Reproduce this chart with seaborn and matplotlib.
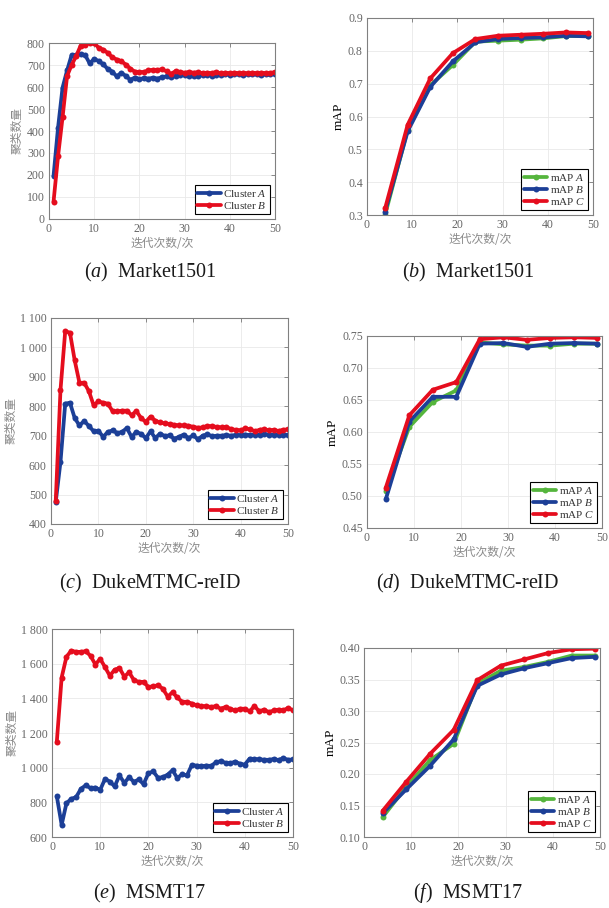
import matplotlib
matplotlib.use("Agg")
import matplotlib.pyplot as plt
import pandas as pd
import seaborn as sns

# ---- data -------------------------------------------------------------
iters = list(range(1, 51))
map_iters = [4, 9, 14, 19, 24, 29, 34, 39, 44, 49]

market_cluster_a = [195, 415, 597, 675, 745, 745, 750, 745, 707, 728,
                    718, 703, 682, 670, 648, 665, 650, 633, 643, 636,
                    640, 638, 642, 638, 645, 648, 645, 650, 655, 655,
                    652, 648, 652, 655, 656, 652, 655, 656, 658, 656,
                    658, 657, 655, 658, 657, 658, 656, 658, 657, 660]
market_cluster_b = [78, 285, 462, 650, 700, 740, 788, 792, 800, 800,
                    778, 770, 755, 735, 725, 717, 702, 683, 670, 668,
                    668, 676, 678, 678, 680, 672, 660, 672, 668, 665,
                    668, 665, 667, 663, 665, 663, 668, 662, 665, 663,
                    665, 663, 665, 662, 665, 663, 665, 663, 664, 668]

duke_cluster_a = [475, 611, 809, 812, 760, 735, 750, 733, 715, 717,
                  696, 713, 718, 709, 713, 726, 696, 713, 706, 692,
                  715, 692, 707, 699, 701, 690, 696, 704, 692, 701,
                  688, 700, 705, 698, 700, 700, 702, 700, 703, 702,
                  704, 702, 704, 703, 705, 703, 704, 703, 704, 703]
duke_cluster_b = [478, 855, 1055, 1050, 956, 880, 880, 851, 803, 817,
                  812, 809, 783, 783, 785, 785, 770, 784, 760, 747,
                  765, 751, 745, 742, 740, 737, 735, 735, 734, 730,
                  727, 728, 733, 732, 730, 728, 730, 722, 720, 718,
                  725, 722, 715, 720, 722, 718, 720, 716, 720, 722]

msmt_cluster_a = [835, 670, 795, 820, 830, 878, 898, 882, 885, 872,
                  935, 920, 892, 955, 912, 945, 918, 932, 905, 968,
                  978, 942, 945, 960, 985, 940, 962, 955, 1015, 1012,
                  1008, 1012, 1010, 1030, 1038, 1028, 1025, 1035, 1022, 1018,
                  1052, 1050, 1048, 1046, 1045, 1050, 1044, 1055, 1045, 1048]
msmt_cluster_b = [1150, 1520, 1640, 1675, 1668, 1668, 1672, 1645, 1595, 1628,
                  1580, 1530, 1565, 1575, 1525, 1550, 1505, 1495, 1495, 1465,
                  1470, 1475, 1455, 1410, 1435, 1405, 1380, 1380, 1370, 1360,
                  1355, 1355, 1350, 1355, 1340, 1350, 1340, 1330, 1340, 1340,
                  1325, 1355, 1325, 1335, 1320, 1330, 1335, 1330, 1345, 1330]

market_map_a = [0.300, 0.560, 0.695, 0.757, 0.828, 0.831, 0.834, 0.838, 0.845, 0.845]
market_map_b = [0.310, 0.555, 0.690, 0.768, 0.826, 0.836, 0.839, 0.841, 0.846, 0.844]
market_map_c = [0.320, 0.575, 0.716, 0.793, 0.836, 0.846, 0.849, 0.852, 0.856, 0.854]

duke_map_a = [0.508, 0.608, 0.647, 0.665, 0.740, 0.737, 0.735, 0.735, 0.738, 0.738]
duke_map_b = [0.495, 0.616, 0.655, 0.655, 0.738, 0.739, 0.733, 0.738, 0.739, 0.738]
duke_map_c = [0.513, 0.626, 0.666, 0.678, 0.745, 0.748, 0.744, 0.747, 0.748, 0.747]

msmt_map_a = [0.132, 0.180, 0.222, 0.248, 0.343, 0.364, 0.370, 0.378, 0.388, 0.388]
msmt_map_b = [0.138, 0.176, 0.213, 0.255, 0.340, 0.358, 0.368, 0.376, 0.384, 0.386]
msmt_map_c = [0.142, 0.188, 0.232, 0.270, 0.349, 0.372, 0.382, 0.392, 0.398, 0.399]

captions = ["a", "b", "c", "d", "e", "f"]
datasets = ["Market1501", "Market1501", "DukeMTMC-reID", "DukeMTMC-reID",
            "MSMT17", "MSMT17"]

# ---- style ------------------------------------------------------------
sns.set_style("white")
plt.rcParams["font.family"] = ["Liberation Serif", "Noto Sans CJK SC", "DejaVu Sans"]
plt.rcParams["mathtext.fontset"] = "custom"
plt.rcParams["mathtext.rm"] = "Liberation Serif"
plt.rcParams["mathtext.it"] = "Liberation Serif:italic"

BLUE = "#1c3f97"
RED = "#e50d1e"
GREEN = "#55b53d"
GRAY = "#666666"

W, H = 609, 908
fig = plt.figure(figsize=(W / 100, H / 100), dpi=100)


def make_axes(left, top, right, bottom):
    return fig.add_axes([left / W, 1 - bottom / H, (right - left) / W, (bottom - top) / H])


def style(ax, ylim, yticks, ylabels, ylabel, ylabel_color):
    ax.set_xlim(0, 50)
    ax.set_xticks(range(0, 51, 10))
    ax.set_ylim(*ylim)
    ax.set_yticks(yticks)
    ax.set_yticklabels(ylabels)
    ax.grid(True, color="#e9e9e9", linewidth=0.6)
    ax.set_axisbelow(True)
    ax.tick_params(direction="in", top=True, right=True, length=3, width=0.6,
                   color="#777777", labelcolor=GRAY, labelsize=8.5, pad=3)
    for sp in ax.spines.values():
        sp.set_color("#808080")
        sp.set_linewidth(0.8)
    ax.set_xlabel("迭代次数/次", fontsize=8.5, color="#8a8a8a", labelpad=1,
                  family=["Noto Sans CJK SC"])
    if ylabel == "mAP":
        ax.set_ylabel(ylabel, fontsize=9.5, color="black", labelpad=2)
    else:
        ax.set_ylabel(ylabel, fontsize=8.5, color=ylabel_color, labelpad=2,
                      family=["Noto Sans CJK SC"])


def legend(ax):
    leg = ax.legend(loc="lower right", frameon=True, fancybox=False,
                    edgecolor="black", framealpha=1, fontsize=8,
                    handlelength=2.1, borderpad=0.25, labelspacing=0.12,
                    handletextpad=0.25, borderaxespad=0.45)
    leg.get_frame().set_linewidth(0.8)
    for t in leg.get_texts():
        t.set_color("#333333")


def cluster_panel(ax, a_vals, b_vals):
    df = pd.DataFrame({"iter": iters, "A": a_vals, "B": b_vals})
    sns.lineplot(data=df, x="iter", y="A", ax=ax, color=BLUE, linewidth=2.7,
                 marker="o", markersize=4.3, markeredgewidth=0,
                 label=r"Cluster $\mathit{A}$")
    sns.lineplot(data=df, x="iter", y="B", ax=ax, color=RED, linewidth=2.7,
                 marker="o", markersize=4.3, markeredgewidth=0,
                 label=r"Cluster $\mathit{B}$")
    legend(ax)


def map_panel(ax, a_vals, b_vals, c_vals):
    df = pd.DataFrame({"iter": map_iters, "A": a_vals, "B": b_vals, "C": c_vals})
    for col, colr in (("A", GREEN), ("B", BLUE), ("C", RED)):
        sns.lineplot(data=df, x="iter", y=col, ax=ax, color=colr, linewidth=2.7,
                     marker="o", markersize=4.3, markeredgewidth=0,
                     label=r"mAP $\mathit{%s}$" % col)
    legend(ax)


def thousands(v):
    s = f"{v:d}"
    return s if v < 1000 else s[:-3] + " " + s[-3:]


# (a)
ax = make_axes(49, 43, 275, 219)
cluster_panel(ax, market_cluster_a, market_cluster_b)
yt = list(range(0, 801, 100))
style(ax, (0, 800), yt, [thousands(v) for v in yt], "聚类数量", "#8a8a8a")

# (b)
ax = make_axes(367, 18, 593, 215)
map_panel(ax, market_map_a, market_map_b, market_map_c)
yt = [0.3, 0.4, 0.5, 0.6, 0.7, 0.8, 0.9]
style(ax, (0.3, 0.9), yt, [f"{v:.1f}" for v in yt], "mAP", "black")

# (c)
ax = make_axes(51, 318, 288, 524)
cluster_panel(ax, duke_cluster_a, duke_cluster_b)
yt = list(range(400, 1101, 100))
style(ax, (400, 1100), yt, [thousands(v) for v in yt], "聚类数量", "#8a8a8a")

# (d)
ax = make_axes(367, 336, 602, 528)
map_panel(ax, duke_map_a, duke_map_b, duke_map_c)
yt = [0.45, 0.50, 0.55, 0.60, 0.65, 0.70, 0.75]
style(ax, (0.45, 0.75), yt, [f"{v:.2f}" for v in yt], "mAP", "black")

# (e)
ax = make_axes(52, 629, 293, 837)
cluster_panel(ax, msmt_cluster_a, msmt_cluster_b)
yt = list(range(600, 1801, 200))
style(ax, (600, 1800), yt, [thousands(v) for v in yt], "聚类数量", "#8a8a8a")

# (f)
ax = make_axes(364, 648, 600, 837)
map_panel(ax, msmt_map_a, msmt_map_b, msmt_map_c)
yt = [0.10, 0.15, 0.20, 0.25, 0.30, 0.35, 0.40]
style(ax, (0.10, 0.40), yt, [f"{v:.2f}" for v in yt], "mAP", "black")

# sub-figure captions
cap_pos = [(150, 272), (468, 272), (150, 583), (468, 583), (150, 893), (468, 893)]
for (cx, cy), letter, name in zip(cap_pos, captions, datasets):
    fig.text(cx / W, 1 - cy / H, r"$(\mathit{%s})$  %s" % (letter, name),
             ha="center", va="center", fontsize=14.5, color="#1a1a1a")

fig.savefig("out.png", dpi=100)
